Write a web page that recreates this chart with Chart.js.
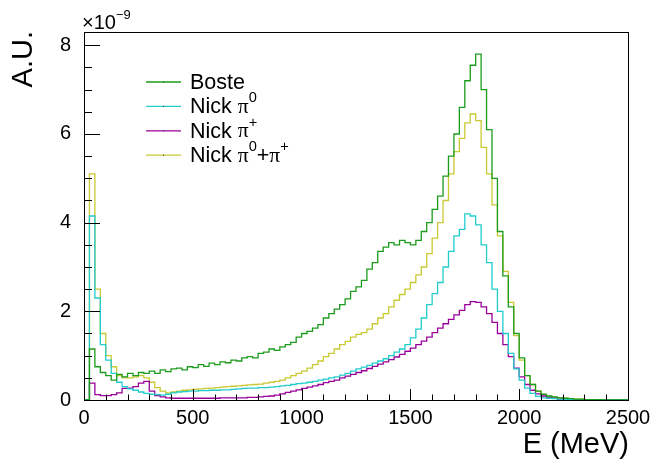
<!DOCTYPE html>
<html>
<head>
<meta charset="utf-8">
<script src="https://cdn.jsdelivr.net/npm/chart.js@4/dist/chart.umd.min.js"></script>
<style>
  html, body { margin: 0; padding: 0; background: #fff; }
  canvas { display: block; }
</style>
</head>
<body>
<canvas id="chart" width="655" height="459"></canvas>
<script>
// histogram values in units of 1e-9, 25 MeV bins starting at 0 MeV
const binWidth = 25;

const boste = [
  0, 1.15, 0.75, 0.62, 0.55, 0.45, 0.58, 0.52, 0.6, 0.55,
  0.62, 0.6, 0.65, 0.6, 0.68, 0.64, 0.7, 0.72, 0.68, 0.75,
  0.73, 0.8, 0.76, 0.83, 0.8, 0.86, 0.84, 0.9, 0.88, 0.95,
  0.98, 0.95, 1.05, 1.08, 1.15, 1.12, 1.2, 1.25, 1.3, 1.42,
  1.5, 1.55, 1.62, 1.7, 1.85, 1.95, 2.05, 2.15, 2.28, 2.45,
  2.55, 2.7, 2.95, 3.1, 3.35, 3.45, 3.55, 3.5, 3.6, 3.55,
  3.5, 3.6, 3.8, 4.0, 4.3, 4.6, 5.05, 5.5, 6.0, 6.6,
  7.2, 7.55, 7.8, 7.0, 6.1, 5.0, 3.8, 2.8, 2.1, 1.5,
  0.95, 0.55, 0.35, 0.2, 0.13, 0.09, 0.07, 0.05, 0.04, 0.03,
  0.02, 0.02, 0.01, 0.01, 0.01, 0.005, 0.005, 0, 0, 0
];

const nickPi0 = [
  0, 4.15, 2.3, 1.25, 0.9, 0.6, 0.4, 0.3, 0.25, 0.22,
  0.18, 0.15, 0.13, 0.12, 0.11, 0.13, 0.16, 0.18, 0.19, 0.2,
  0.2, 0.21, 0.21, 0.22, 0.22, 0.23, 0.23, 0.24, 0.25, 0.26,
  0.27, 0.27, 0.28, 0.28, 0.29, 0.3, 0.32, 0.33, 0.35, 0.37,
  0.38, 0.4, 0.42, 0.45, 0.47, 0.5, 0.52, 0.56, 0.6, 0.65,
  0.7, 0.74, 0.78, 0.83, 0.88, 0.93, 1.0, 1.08, 1.15, 1.25,
  1.4, 1.6, 1.85, 2.15, 2.4, 2.65, 3.0, 3.35, 3.7, 3.85,
  4.2, 4.15, 3.95, 3.5, 3.1, 2.5, 2.0, 1.5, 1.05, 0.7,
  0.45, 0.27, 0.15, 0.08, 0.05, 0.04, 0.03, 0.02, 0.01, 0.01,
  0.005, 0.005, 0, 0, 0, 0, 0, 0, 0, 0
];

const nickPiPlus = [
  0, 0.38, 0.12, 0.1, 0.1, 0.12, 0.16, 0.26, 0.27, 0.3,
  0.38, 0.42, 0.2, 0.1, 0.07, 0.05, 0.04, 0.04, 0.04, 0.04,
  0.04, 0.04, 0.04, 0.04, 0.04, 0.05, 0.05, 0.05, 0.05, 0.05,
  0.06, 0.06, 0.07, 0.08, 0.09, 0.11, 0.14, 0.17, 0.2, 0.23,
  0.26, 0.29, 0.32, 0.35, 0.39, 0.42, 0.45, 0.5, 0.54, 0.58,
  0.62, 0.66, 0.71, 0.76, 0.81, 0.86, 0.91, 0.97, 1.03, 1.1,
  1.17, 1.25, 1.33, 1.42, 1.52, 1.62, 1.72, 1.82, 1.92, 2.02,
  2.15, 2.22, 2.2, 2.1, 1.95, 1.75, 1.5, 1.25, 0.98, 0.72,
  0.52, 0.35, 0.22, 0.14, 0.09, 0.06, 0.04, 0.02, 0.01, 0.01,
  0.005, 0, 0, 0, 0, 0, 0, 0, 0, 0
];

const nickSum = [
  0, 5.1, 2.5, 1.5, 1.0, 0.75, 0.55, 0.5, 0.5, 0.52,
  0.55, 0.5, 0.4, 0.28, 0.2, 0.16, 0.18, 0.2, 0.22, 0.23,
  0.24, 0.25, 0.26, 0.27, 0.28, 0.29, 0.3, 0.31, 0.32, 0.33,
  0.34, 0.35, 0.36, 0.38, 0.4, 0.42, 0.45, 0.5, 0.55, 0.6,
  0.65, 0.72, 0.8, 0.88, 0.98, 1.05, 1.15, 1.25, 1.32, 1.42,
  1.48, 1.52, 1.6, 1.72, 1.85, 1.95, 2.1, 2.25, 2.38, 2.5,
  2.65, 2.82, 3.0, 3.3, 3.65, 4.0, 4.5, 5.1, 5.6, 5.9,
  6.25, 6.45, 6.3, 5.7, 5.1, 4.4, 3.7, 2.9, 2.2, 1.45,
  0.9, 0.55, 0.35, 0.2, 0.12, 0.08, 0.06, 0.05, 0.04, 0.03,
  0.02, 0.02, 0.01, 0.01, 0.005, 0.005, 0, 0, 0, 0
];

const xTicks = [0, 500, 1000, 1500, 2000, 2500];
const yTicks = [0, 2, 4, 6, 8];
const xMinorStep = 100;
const yMinorStep = 0.5;

const seriesNames = ['Boste', 'Nick \u03c0|0', 'Nick \u03c0|+', 'Nick \u03c0|0|+\u03c0|+'];
const seriesColors = ['#1c9c1c', '#22cccc', '#990099', '#c9c933'];

const FONT = '"Liberation Sans", Arial, sans-serif';

function toPoints(vals) {
  let pts = vals.map((v, i) => ({ x: i * binWidth, y: v }));
  pts.push({ x: vals.length * binWidth, y: 0 });
  return pts;
}

const allSeries = [boste, nickPi0, nickPiPlus, nickSum];

const datasets = allSeries.map((vals, i) => ({
  label: seriesNames[i].replace(/\|/g, ''),
  data: toPoints(vals),
  borderColor: seriesColors[i],
  borderWidth: 1.3,
  pointRadius: 0,
  stepped: 'before',
  fill: false,
  clip: false
}));

// draws "Nick π|0" style text: pieces after | alternate between normal and superscript
function drawRich(ctx, text, x, y, size) {
  let parts = text.split('|');
  let cx = x;
  parts.forEach((p, k) => {
    let sup = k % 2 === 1;
    let fs = sup ? size * 0.68 : size;
    let dy = sup ? -size * 0.42 : 0;
    let chars = p.split(/(\u03c0)/);
    chars.forEach(c => {
      if (!c) return;
      if (c === '\u03c0') {
        ctx.font = fs + 'px "Liberation Serif", serif';
      } else {
        ctx.font = fs + 'px ' + FONT;
      }
      ctx.fillText(c, cx, y + dy);
      cx += ctx.measureText(c).width;
    });
  });
}

const rootStyle = {
  id: 'rootStyle',
  afterDraw(chart) {
    const ctx = chart.ctx;
    const a = chart.chartArea;
    const xs = chart.scales.x;
    const ys = chart.scales.y;
    ctx.save();
    ctx.strokeStyle = '#000';
    ctx.lineWidth = 1;
    ctx.strokeRect(Math.round(a.left) + 0.5, Math.round(a.top) + 0.5,
      Math.round(a.right - a.left), Math.round(a.bottom - a.top));

    // x ticks, inside the frame
    ctx.beginPath();
    for (let v = 0; v <= xs.max + 0.1; v += xMinorStep) {
      let px = Math.round(xs.getPixelForValue(v)) + 0.5;
      let len = xTicks.includes(v) ? 11 : 5.5;
      ctx.moveTo(px, a.bottom);
      ctx.lineTo(px, a.bottom - len);
    }
    // y ticks
    for (let v = 0; v <= ys.max + 0.001; v += yMinorStep) {
      let py = Math.round(ys.getPixelForValue(v)) + 0.5;
      let len = yTicks.includes(Math.round(v * 100) / 100) ? 16 : 8;
      ctx.moveTo(a.left, py);
      ctx.lineTo(a.left + len, py);
    }
    ctx.stroke();

    ctx.fillStyle = '#000';
    // exponent
    ctx.textBaseline = 'alphabetic';
    ctx.textAlign = 'left';
    ctx.font = '20px ' + FONT;
    ctx.fillText('\u00d710', 82, 29);
    let w = ctx.measureText('\u00d710').width;
    ctx.font = '13px ' + FONT;
    ctx.fillText('\u22129', 82 + w, 19);

    // axis titles
    ctx.font = '29px ' + FONT;
    ctx.textAlign = 'right';
    ctx.fillText('E (MeV)', 629, 453);
    ctx.save();
    ctx.translate(32, 31);
    ctx.rotate(-Math.PI / 2);
    ctx.textAlign = 'right';
    ctx.fillText('A.U.', 0, 0);
    ctx.restore();

    // legend
    ctx.textAlign = 'left';
    ctx.textBaseline = 'middle';
    seriesNames.forEach((name, i) => {
      let ly = 82 + i * 24.4;
      ctx.strokeStyle = seriesColors[i];
      ctx.lineWidth = 1.3;
      ctx.beginPath();
      ctx.moveTo(146, ly);
      ctx.lineTo(181, ly);
      ctx.stroke();
      ctx.fillStyle = '#333';
      ctx.fillRect(163, ly - 0.5, 1, 1);
      ctx.fillStyle = '#000';
      drawRich(ctx, name, 190, ly + 1, 21.5);
    });
    ctx.restore();
  }
};

new Chart(document.getElementById('chart'), {
  type: 'line',
  data: { datasets: datasets },
  options: {
    responsive: false,
    animation: false,
    events: [],
    layout: { padding: { left: 0, right: 27, top: 32, bottom: 0 } },
    plugins: { legend: { display: false }, tooltip: { enabled: false } },
    scales: {
      x: {
        type: 'linear',
        min: 0,
        max: 2500,
        grid: { display: false },
        border: { display: false },
        afterFit: s => { s.height = 59; },
        afterBuildTicks: s => { s.ticks = xTicks.map(v => ({ value: v })); },
        ticks: {
          color: '#000',
          padding: -2,
          maxRotation: 0,
          font: { family: FONT, size: 20 },
          callback: v => String(v)
        }
      },
      y: {
        type: 'linear',
        min: 0,
        max: 8.3,
        grid: { display: false },
        border: { display: false },
        afterFit: s => { s.width = 84; },
        afterBuildTicks: s => { s.ticks = yTicks.map(v => ({ value: v })); },
        ticks: {
          color: '#000',
          padding: 5,
          font: { family: FONT, size: 20 },
          callback: v => String(v)
        }
      }
    }
  },
  plugins: [rootStyle]
});
</script>
</body>
</html>
